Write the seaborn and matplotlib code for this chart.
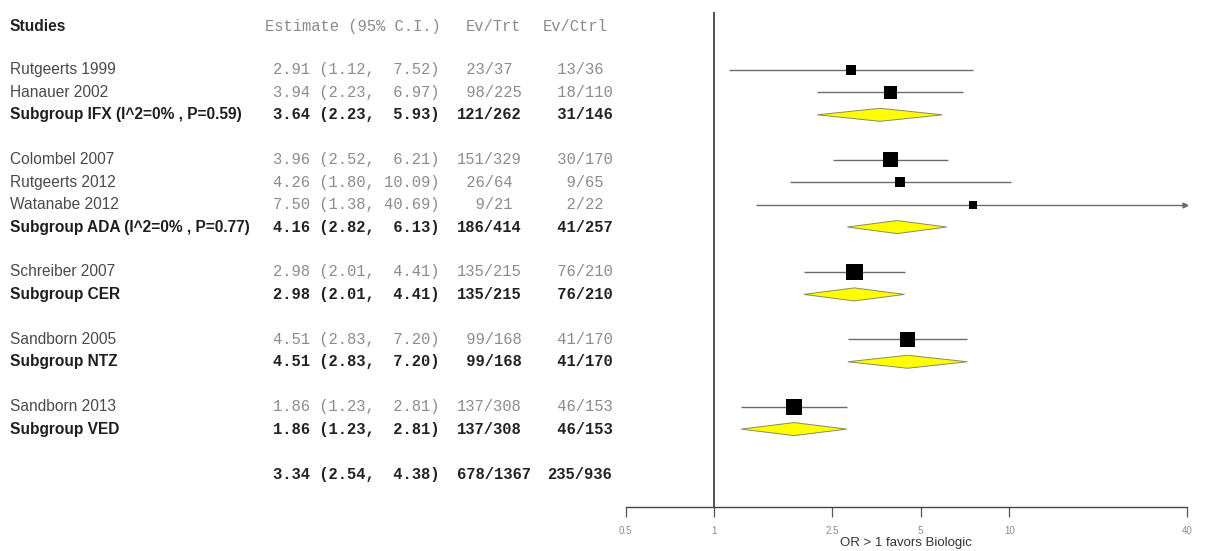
import numpy as np
import pandas as pd
import seaborn as sns
from matplotlib import pyplot as plt
from matplotlib.transforms import blended_transform_factory


labels = ["Rutgeerts 1999", "Hanauer 2002", "Subgroup IFX (I^2=0% , P=0.59)",
          "Colombel 2007", "Rutgeerts 2012", "Watanabe 2012", "Subgroup ADA (I^2=0% , P=0.77)",
          "Schreiber 2007", "Subgroup CER",
          "Sandborn 2005", "Subgroup NTZ",
          "Sandborn 2013", "Subgroup VED",
          ""]
kind = ["study", "study", "sub",
        "study", "study", "study", "sub",
        "study", "sub",
        "study", "sub",
        "study", "sub",
        "total"]
row = [2, 3, 4, 6, 7, 8, 9, 11, 12, 14, 15, 17, 18, 20]
est = [2.91, 3.94, 3.64, 3.96, 4.26, 7.50, 4.16, 2.98, 2.98, 4.51, 4.51, 1.86, 1.86, 3.34]
lo = [1.12, 2.23, 2.23, 2.52, 1.80, 1.38, 2.82, 2.01, 2.01, 2.83, 2.83, 1.23, 1.23, 2.54]
hi = [7.52, 6.97, 5.93, 6.21, 10.09, 40.69, 6.13, 4.41, 4.41, 7.20, 7.20, 2.81, 2.81, 4.38]
ev_trt = [23, 98, 121, 151, 26, 9, 186, 135, 135, 99, 99, 137, 137, 678]
n_trt = [37, 225, 262, 329, 64, 21, 414, 215, 215, 168, 168, 308, 308, 1367]
ev_ctrl = [13, 18, 31, 30, 9, 2, 41, 76, 76, 41, 41, 46, 46, 235]
n_ctrl = [36, 110, 146, 170, 65, 22, 257, 210, 210, 170, 170, 153, 153, 936]

ticks = [0.5, 1, 2.5, 5, 10, 40]
tick_labels = ["0.5", "1", "2.5", "5", "10", "40"]

df = pd.DataFrame({"label": labels, "kind": kind, "row": row, "est": est,
                   "lo": lo, "hi": hi, "ev_trt": ev_trt, "n_trt": n_trt,
                   "ev_ctrl": ev_ctrl, "n_ctrl": n_ctrl})

sns.set_style("white")
plt.rcParams["font.family"] = ["Liberation Sans", "DejaVu Sans"]

W, H = 1206, 551
fig = plt.figure(figsize=(W / 100, H / 100), dpi=100)
ax = fig.add_axes([625.7 / W, 1 - 507 / H, (1187 - 625.7) / W, (507 - 12) / H])
ax.set_xscale("log")
ax.set_xlim(ticks[0], ticks[-1])
ax.set_ylim(21.47, -0.58)

# confidence interval lines for single studies
studies = df[df.kind == "study"]
ax.hlines(studies.row, studies.lo, studies.hi.clip(upper=ticks[-1]), color="#6b6b6b", lw=1.0, zorder=2)
clipped = studies[studies.hi > ticks[-1]]
ax.plot(np.full(len(clipped), ticks[-1]) * 0.985, clipped.row, marker=">", ls="none",
        ms=3.5, color="#6b6b6b", zorder=2)

# box side grows with inverse standard error
se = (np.log(studies.hi) - np.log(studies.lo)) / (2 * 1.96)
side_pt = (5.4 + 2.27 / se) / 1.389
area = side_pt ** 2
sns.scatterplot(x=studies.est, y=studies.row, size=area, sizes=(area.min(), area.max()),
                marker="s", color="black", edgecolor="black", linewidth=0, legend=False,
                ax=ax, zorder=3)

# subgroup diamonds
half = 0.29
for _, r in df[df.kind == "sub"].iterrows():
    ax.fill([r.lo, r.est, r.hi, r.est], [r.row, r.row - half, r.row, r.row + half],
            facecolor="#ffff00", edgecolor="#8a8a5a", lw=0.7, zorder=3)

ax.axvline(1, color="#222222", lw=1.1, zorder=1)

for s in ["top", "right", "left"]:
    ax.spines[s].set_visible(False)
ax.spines["bottom"].set_color("#444444")
ax.spines["bottom"].set_linewidth(1.0)
ax.set_yticks([])
ax.set_xticks(ticks)
ax.set_xticklabels(tick_labels)
ax.xaxis.set_minor_locator(plt.NullLocator())
ax.tick_params(axis="x", direction="out", length=7.5, width=0.9, color="#555555",
               labelsize=7, labelcolor="#8a8a8a", pad=6, bottom=True)
ax.set_xlabel("OR > 1 favors Biologic", fontsize=9.5, color="#333333", labelpad=1)
ax.set_ylabel("")

# text table on the left
tr = blended_transform_factory(fig.transFigure, ax.transData)
fs = 11.2
mono = ["Liberation Mono", "DejaVu Sans Mono"]
hdr_y = 0.05
ax.text(10 / W, hdr_y, "Studies", transform=tr, fontsize=fs, fontweight="bold",
        color="#222222", va="center", clip_on=False)
ax.text(265 / W, hdr_y, "Estimate (95% C.I.)", transform=tr, fontsize=fs, family=mono,
        color="#8a8a8a", va="center", clip_on=False)
ax.text(466 / W, hdr_y, "Ev/Trt", transform=tr, fontsize=fs, family=mono,
        color="#8a8a8a", va="center", clip_on=False)
ax.text(543 / W, hdr_y, "Ev/Ctrl", transform=tr, fontsize=fs, family=mono,
        color="#8a8a8a", va="center", clip_on=False)

for _, r in df.iterrows():
    if r.kind == "study":
        name_kw = dict(color="#4a4a4a")
        num_kw = dict(color="#8c8c8c")
    else:
        name_kw = dict(color="#1e1e1e", fontweight="bold")
        num_kw = dict(color="#222222", fontweight="bold")
    ax.text(10 / W, r.row, r.label, transform=tr, fontsize=fs, va="center",
            clip_on=False, **name_kw)
    ci = f"{r.est:.2f} ({r.lo:.2f}, {r.hi:5.2f})"
    ax.text(273 / W, r.row, ci, transform=tr, fontsize=fs, family=mono, va="center",
            clip_on=False, **num_kw)
    ax.text(457 / W, r.row, f"{r.ev_trt:>3}/{r.n_trt:<3}", transform=tr, fontsize=fs,
            family=mono, va="center", clip_on=False, **num_kw)
    ax.text(547.5 / W, r.row, f"{r.ev_ctrl:>3}/{r.n_ctrl:<3}", transform=tr, fontsize=fs,
            family=mono, va="center", clip_on=False, **num_kw)

fig.savefig("out.png", dpi=100)
